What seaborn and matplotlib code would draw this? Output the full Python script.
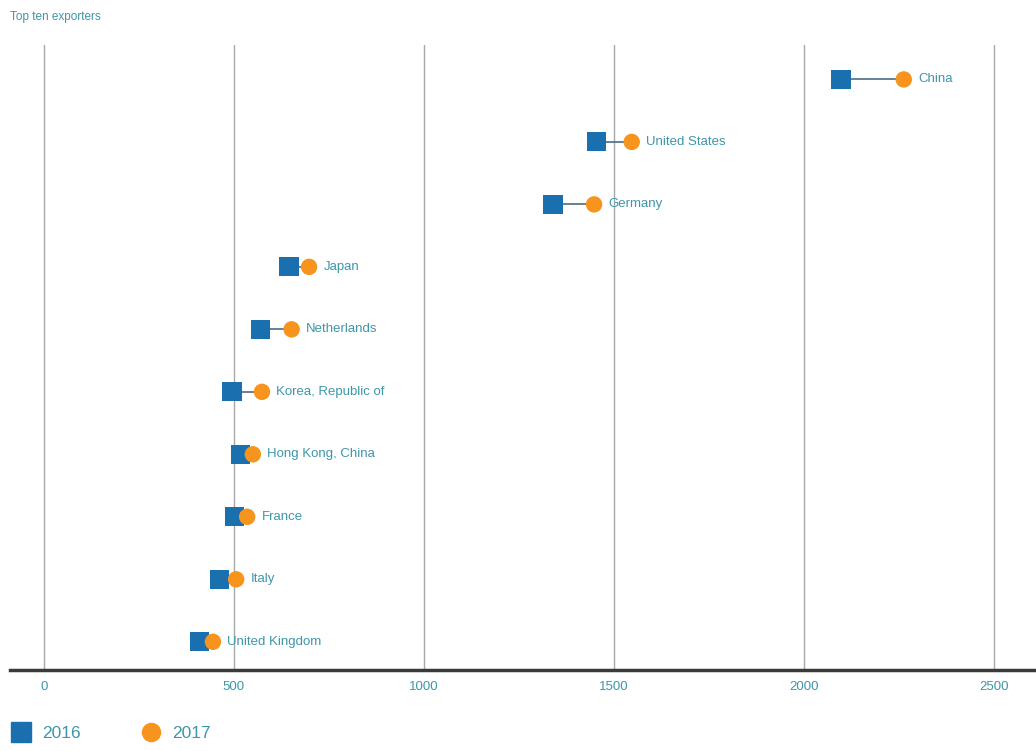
import pandas as pd
import numpy as np
import seaborn as sns
import matplotlib.pyplot as plt
from matplotlib.lines import Line2D

## data
countries = ['China', 'United States', 'Germany', 'Japan', 'Netherlands',
             'Korea, Republic of', 'Hong Kong, China', 'France', 'Italy', 'United Kingdom']
exports_2016 = [2098, 1455, 1340, 645, 570, 495, 517, 501, 462, 409]
exports_2017 = [2263, 1547, 1448, 698, 652, 574, 550, 535, 506, 445]
xticks = [0, 500, 1000, 1500, 2000, 2500]

df = pd.DataFrame({
    'country': countries * 2,
    'value': exports_2016 + exports_2017,
    'year': ['2016'] * len(countries) + ['2017'] * len(countries),
})
df['row'] = df['country'].map({c: i for i, c in enumerate(countries)})

## style
sns.set_style('white')
plt.rcParams['font.family'] = ['Liberation Sans', 'DejaVu Sans']
blue = '#1a6fae'
orange = '#f7941d'
teal = '#3d96aa'

fig = plt.figure(figsize=(10.36, 7.51), dpi=100)
ax = fig.add_axes([0.0097, 0.108, 0.9903, 0.832])

# connector lines
ax.hlines(y=np.arange(len(countries)), xmin=exports_2016, xmax=exports_2017,
          color='#4a6c84', linewidth=1.2, zorder=2)

sns.scatterplot(data=df, x='value', y='row', hue='year', style='year',
                markers={'2016': 's', '2017': 'o'},
                palette={'2016': blue, '2017': orange},
                size='year', sizes={'2016': 190, '2017': 140},
                linewidth=0, legend=False, ax=ax, zorder=3)

for i, c in enumerate(countries):
    ax.text(exports_2017[i] + 38, i, c, va='center', ha='left',
            fontsize=9.5, color=teal, zorder=4)

ax.set_xlim(-89, 2611)
ax.set_ylim(9.45, -0.55)
ax.set_xticks(xticks)
ax.set_yticks([])
ax.set_xlabel('')
ax.set_ylabel('')
ax.tick_params(axis='x', length=0, labelsize=9.5, labelcolor=teal, pad=8)
ax.grid(axis='x', color='#a8a8a8', linewidth=1)
for s in ['top', 'right', 'left']:
    ax.spines[s].set_visible(False)
ax.spines['bottom'].set_color('#3a3a3a')
ax.spines['bottom'].set_linewidth(2.5)

fig.text(0.0097, 0.978, 'Top ten exporters', fontsize=8.5, color=teal,
         ha='left', va='center')

handles = [Line2D([], [], marker='s', color=blue, linestyle='', markersize=14, label='2016'),
           Line2D([], [], marker='o', color=orange, linestyle='', markersize=13, label='2017')]
fig.legend(handles=handles, loc='lower left', bbox_to_anchor=(0.0, 0.0), ncol=2,
           frameon=False, fontsize=12.5, labelcolor=teal, columnspacing=3.5,
           handletextpad=0.6, handlelength=1.2, borderaxespad=0.2)

fig.savefig('out.png', dpi=100)
